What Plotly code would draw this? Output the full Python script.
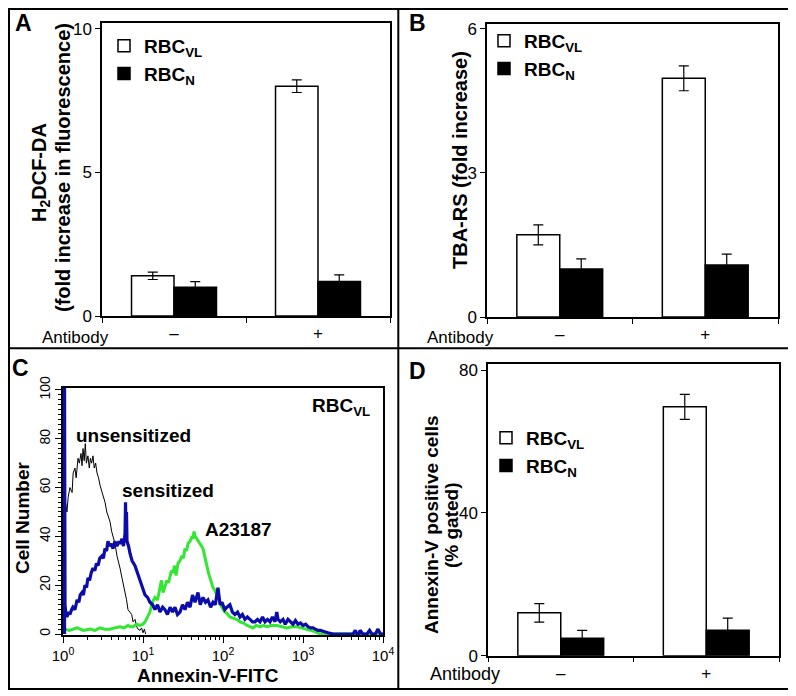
import plotly.graph_objects as go

# The page body has an 8 px margin, so the figure is 8 px smaller and all
# reference pixel positions are shifted by that offset.
OFF = 8
W, H = 796 - OFF, 696 - OFF
FONT = "Arial, Liberation Sans, sans-serif"

# ---------------- data ----------------
groups = ["–", "+"]
series_names = ["RBC<sub>VL</sub>", "RBC<sub>N</sub>"]

a_vl = [1.40, 8.00]
a_vl_err = [0.13, 0.22]
a_n = [1.00, 1.20]
a_n_err = [0.20, 0.23]

b_vl = [1.71, 4.97]
b_vl_err = [0.21, 0.26]
b_n = [1.00, 1.08]
b_n_err = [0.21, 0.23]

d_vl = [12.0, 69.7]
d_vl_err = [2.6, 3.5]
d_n = [4.9, 7.1]
d_n_err = [2.2, 3.4]

# flow cytometry histograms (panel C)
unsens_x = [1.0, 1.06, 1.12, 1.16, 1.22, 1.30, 1.34, 1.41, 1.46, 1.54, 1.60, 1.68, 1.73, 1.78,
            1.84, 1.90, 1.96, 2.05, 2.13, 2.20, 2.28, 2.37, 2.46, 2.56, 2.66, 2.78, 2.90, 3.07,
            3.21, 3.35, 3.53, 3.68, 3.87, 4.06, 4.22, 4.47, 4.73, 4.93, 5.16, 5.46, 5.72, 5.96,
            6.23, 6.49, 6.88, 7.22, 7.50, 7.94, 8.35, 8.66, 9.17, 9.60, 10.0, 10.4, 10.8]
unsens_y = [52, 55, 50, 56, 60, 58, 66, 68, 64, 72, 70, 74, 69, 76,
            71, 78, 70, 73, 68, 72, 70, 73, 68, 70, 66, 64, 61, 58,
            56, 54, 50, 48, 46, 42, 40, 37, 32, 30, 27, 23, 20, 16,
            14, 10, 9, 8, 5, 6, 3, 2, 1.5, 2.5, 0.5, 2, 0]

sens_x = [1.045, 1.045, 1.06, 1.09, 1.12, 1.18, 1.22, 1.28, 1.33, 1.41, 1.50, 1.58, 1.64, 1.73,
          1.80, 1.88, 1.97, 2.05, 2.15, 2.25, 2.37, 2.50, 2.62, 2.74, 2.88, 3.07, 3.20, 3.35,
          3.50, 3.65, 3.80, 4.00, 4.22, 4.45, 4.73, 5.0, 5.20, 5.46, 5.70, 5.96, 6.05, 6.13,
          6.22, 6.31, 6.60, 6.88, 7.30, 7.94, 8.50, 9.17, 9.9, 10.6, 11.4, 12.2, 13.2, 14.1,
          15.2, 16.3, 17.6, 18.8, 20.2, 21.8, 23.4, 25.1, 27.0, 29.0, 31.2, 33.5, 36.0, 38.7,
          41.6, 44.7, 48.7, 52.0, 56.2, 60.5, 64.9, 70.0, 75.0, 80.0, 86.6, 92.0, 97.2, 105,
          112, 122, 131, 141, 152, 163, 175, 188, 202, 218, 234, 251, 270, 290, 312, 335,
          360, 387, 415, 447, 470, 487, 520, 562, 600, 649, 700, 750, 805, 866, 930, 1000,
          1080, 1155, 1240, 1334, 1430, 1540, 1650, 1778, 1910, 2054, 2371, 2800, 3548, 4217,
          4500, 4732, 5000, 5158, 5600, 6310, 6800, 7290, 8000, 8660, 9300, 9716, 10000]
sens_y = [0, 105, 12, 8, 7, 9, 8, 10, 11, 10, 14, 13, 16, 17,
          16, 20, 19, 23, 22, 25, 27, 26, 29, 28, 31, 32, 31, 35,
          34, 38, 36, 37, 35, 38, 36, 38, 37, 39, 36, 41, 54, 40,
          50, 38, 36, 33, 30, 28, 25, 22, 19, 16, 15, 13, 12, 10,
          12, 9, 11, 10, 8, 11, 9, 11, 8, 9, 12, 10, 13, 11,
          16, 13, 17, 12, 15, 13, 14, 11, 13, 12, 19, 12, 13, 10,
          11, 12, 9, 8, 9, 7, 8, 6, 7, 6, 5, 5, 6, 5, 7, 5,
          6, 5, 7, 5, 9, 6, 5, 6, 4, 6, 5, 4, 5.5, 4, 4.5, 3.5,
          4, 3, 2.5, 2.5, 2, 1.5, 1.5, 1, 0.8, 0.5, 0, 0, 0, 0,
          1.5, 0, 0, 1.5, 0, 0, 1.5, 0, 0, 2, 0, 0, 0]

a23_x = [1.0, 1.06, 1.2, 1.5, 1.8, 2.17, 2.5, 2.9, 3.3, 3.87, 4.4, 5.16, 5.8, 6.49,
         7.0, 7.5, 8.3, 9.17, 10.0, 10.6, 11.4, 12.2, 13.1, 14.1, 15.2, 16.3, 17.0, 17.8,
         18.8, 19.9, 20.8, 21.8, 22.7, 23.7, 24.8, 25.9, 27.4, 29.0, 30.7, 32.0, 33.5, 35.0,
         36.5, 38.7, 41.0, 42.2, 43.4, 45.0, 47.3, 49.5, 51.6, 54.0, 56.2, 59.5, 63.1, 65.9,
         68.8, 72.0, 75.0, 79.0, 84.1, 88.0, 91.7, 96.0, 100, 106, 112, 122, 133, 148,
         163, 180, 201, 218, 237, 260, 290, 320, 355, 400, 473, 550, 631, 720,
         841, 950, 1122, 1260, 1413, 1520, 1622, 1800, 2200, 3000, 5000, 10000]
a23_y = [1, 2, 1.5, 2.5, 1.5, 2, 1.5, 2.5, 2, 2, 2.5, 3, 2.5, 3.5,
         3, 3, 4, 3.5, 4, 5, 7, 9, 13, 15, 14, 19, 22, 17,
         20, 22, 21, 24, 26, 25, 28, 24, 29, 30, 32, 31, 35, 34,
         37, 38, 40, 39, 42, 40, 39, 38, 37, 36, 35, 31, 28, 25,
         23, 21, 19, 18, 16, 14, 13, 11, 10, 9, 8.5, 7, 6.5, 6,
         5, 4.5, 3.5, 3, 2.5, 3.5, 3, 3.5, 3, 3.5, 3.5, 3, 2.5, 3,
         3, 2.5, 2, 1.5, 1, 0.5, 0, 0, 0, 0, 0, 0]

assert len(unsens_x) == len(unsens_y)
assert len(sens_x) == len(sens_y)
assert len(a23_x) == len(a23_y)

# ---------------- helpers ----------------
def px(x):
    return (x - OFF) / W

def py(y):
    return 1 - (y - OFF) / H

def bold(t):
    return "<b>" + t + "</b>"

fig = go.Figure()

err_style = dict(type="data", color="black", thickness=1.2, width=5, visible=True)

def add_bars(vl, vl_err, n, n_err, xa, ya, leg):
    fig.add_trace(go.Bar(x=groups, y=vl, name=bold(series_names[0]), xaxis=xa, yaxis=ya,
                         marker=dict(color="white", line=dict(color="black", width=1.5)),
                         error_y=dict(array=vl_err, **err_style), legend=leg))
    fig.add_trace(go.Bar(x=groups, y=n, name=bold(series_names[1]), xaxis=xa, yaxis=ya,
                         marker=dict(color="black", line=dict(color="black", width=1.5)),
                         error_y=dict(array=n_err, **err_style), legend=leg))

add_bars(a_vl, a_vl_err, a_n, a_n_err, "x", "y", "legend")
add_bars(b_vl, b_vl_err, b_n, b_n_err, "x2", "y2", "legend2")
add_bars(d_vl, d_vl_err, d_n, d_n_err, "x4", "y4", "legend3")

# histograms
fig.add_trace(go.Scatter(x=unsens_x, y=unsens_y, mode="lines", xaxis="x3", yaxis="y3",
                         line=dict(color="black", width=1), showlegend=False))
fig.add_trace(go.Scatter(x=a23_x, y=a23_y, mode="lines", xaxis="x3", yaxis="y3",
                         line=dict(color="#33e633", width=3), showlegend=False))
fig.add_trace(go.Scatter(x=sens_x, y=sens_y, mode="lines", xaxis="x3", yaxis="y3",
                         line=dict(color="#0c0ca8", width=3.2), showlegend=False))

axis_common = dict(showline=True, linecolor="black", linewidth=1.5, mirror=True,
                   showgrid=False, zeroline=False, ticks="outside", tickcolor="black",
                   tickwidth=1.2, ticklen=5, automargin=False, fixedrange=True,
                   tickfont=dict(family=FONT, size=17, color="black"))

def bar_xaxis(x0, x1, anchor):
    return dict(axis_common, domain=[px(x0), px(x1)], anchor=anchor, type="category",
                tickson="boundaries", ticklabelstandoff=1)

layout = dict(
    template="none",
    width=W, height=H, margin=dict(l=0, r=0, t=0, b=0, autoexpand=False),
    paper_bgcolor="white", plot_bgcolor="white",
    barmode="group", bargap=0.41, bargroupgap=0.0,
    font=dict(family=FONT, color="black"),
    xaxis=bar_xaxis(102, 390, "y"),
    yaxis=dict(axis_common, domain=[py(316), py(23)], anchor="x", range=[0, 10.2],
               tickvals=[0, 5, 10]),
    xaxis2=bar_xaxis(487, 778, "y2"),
    yaxis2=dict(axis_common, domain=[py(317), py(24)], anchor="x2", range=[0, 6.1],
                tickvals=[0, 3, 6]),
    xaxis4=bar_xaxis(488, 779, "y4"),
    yaxis4=dict(axis_common, domain=[py(655.7), py(364.3)], anchor="x4", range=[0, 81.6],
                tickvals=[0, 40, 80]),
    xaxis3=dict(axis_common, domain=[px(63), px(383)], anchor="y3", type="log", range=[0, 4],
                tickvals=[1, 10, 100, 1000, 10000],
                ticktext=["10<sup>0</sup>", "10<sup>1</sup>", "10<sup>2</sup>",
                          "10<sup>3</sup>", "10<sup>4</sup>"],
                ticklen=6, linewidth=2,
                tickfont=dict(family=FONT, size=15, color="black"),
                minor=dict(ticks="outside", ticklen=3, tickcolor="black",
                           tickvals=[m * 10 ** e for e in range(4) for m in range(2, 10)])),
    yaxis3=dict(axis_common, domain=[py(635), py(388)], anchor="x3", range=[-0.4, 100.8],
                tickvals=[0, 20, 40, 60, 80, 100], tickangle=-90, ticklen=6,
                tickfont=dict(family=FONT, size=14, color="black"),
                minor=dict(ticks="outside", ticklen=3, tickcolor="black", dtick=2)),
    legend=dict(x=px(104), y=py(27), xanchor="left", yanchor="top",
                bgcolor="rgba(0,0,0,0)", font=dict(family=FONT, size=19, color="black"),
                tracegroupgap=0),
    legend2=dict(x=px(484), y=py(22), xanchor="left", yanchor="top",
                 bgcolor="rgba(0,0,0,0)", font=dict(family=FONT, size=19, color="black"),
                 tracegroupgap=0),
    legend3=dict(x=px(486), y=py(419), xanchor="left", yanchor="top",
                 bgcolor="rgba(0,0,0,0)", font=dict(family=FONT, size=19, color="black"),
                 tracegroupgap=0),
)
fig.update_layout(**layout)

# frame and panel dividers
line_k = dict(color="black", width=2)
fig.add_shape(type="rect", xref="paper", yref="paper", x0=1 / W, x1=px(790), y0=py(689), y1=1 - 1 / H,
              line=line_k)
fig.add_shape(type="line", xref="paper", yref="paper", x0=px(398.3), x1=px(398.3), y0=py(689), y1=1,
              line=line_k)
fig.add_shape(type="line", xref="paper", yref="paper", x0=0, x1=px(790), y0=py(348.3), y1=py(348.3),
              line=line_k)

def ann(text, x, y, size=19, angle=0, xanchor="center"):
    fig.add_annotation(text=text, x=px(x), y=py(y), xref="paper", yref="paper",
                       showarrow=False, textangle=angle, xanchor=xanchor, yanchor="middle",
                       font=dict(family=FONT, size=size, color="black"))

# panel letters
ann(bold("A"), 24, 23, size=23)
ann(bold("B"), 418, 23, size=23)
ann(bold("C"), 20, 368, size=23)
ann(bold("D"), 418, 371, size=23)

# axis titles
ann(bold("H<sub>2</sub>DCF-DA"), 40, 172, size=20, angle=-90)
ann(bold("(fold increase in fluorescence)"), 63, 168, size=20, angle=-90)
ann(bold("TBA-RS (fold increase)"), 460, 160, size=20, angle=-90)
ann(bold("Annexin-V positive cells"), 431, 525, size=19, angle=-90)
ann(bold("(% gated)"), 451, 525, size=19, angle=-90)
ann(bold("Cell Number"), 22, 518, size=19, angle=-90)
ann(bold("Annexin-V-FITC"), 208, 675, size=19)

# "Antibody" row labels
ann("Antibody", 75, 337, size=17)
ann("Antibody", 460, 337, size=17)
ann("Antibody", 465, 674, size=18)

# panel C labels
ann(bold("RBC<sub>VL</sub>"), 341, 407, size=19)
ann(bold("unsensitized"), 133, 435, size=19)
ann(bold("sensitized"), 168, 490, size=19)
ann(bold("A23187"), 238, 529, size=19)

fig.write_html("out.html")
